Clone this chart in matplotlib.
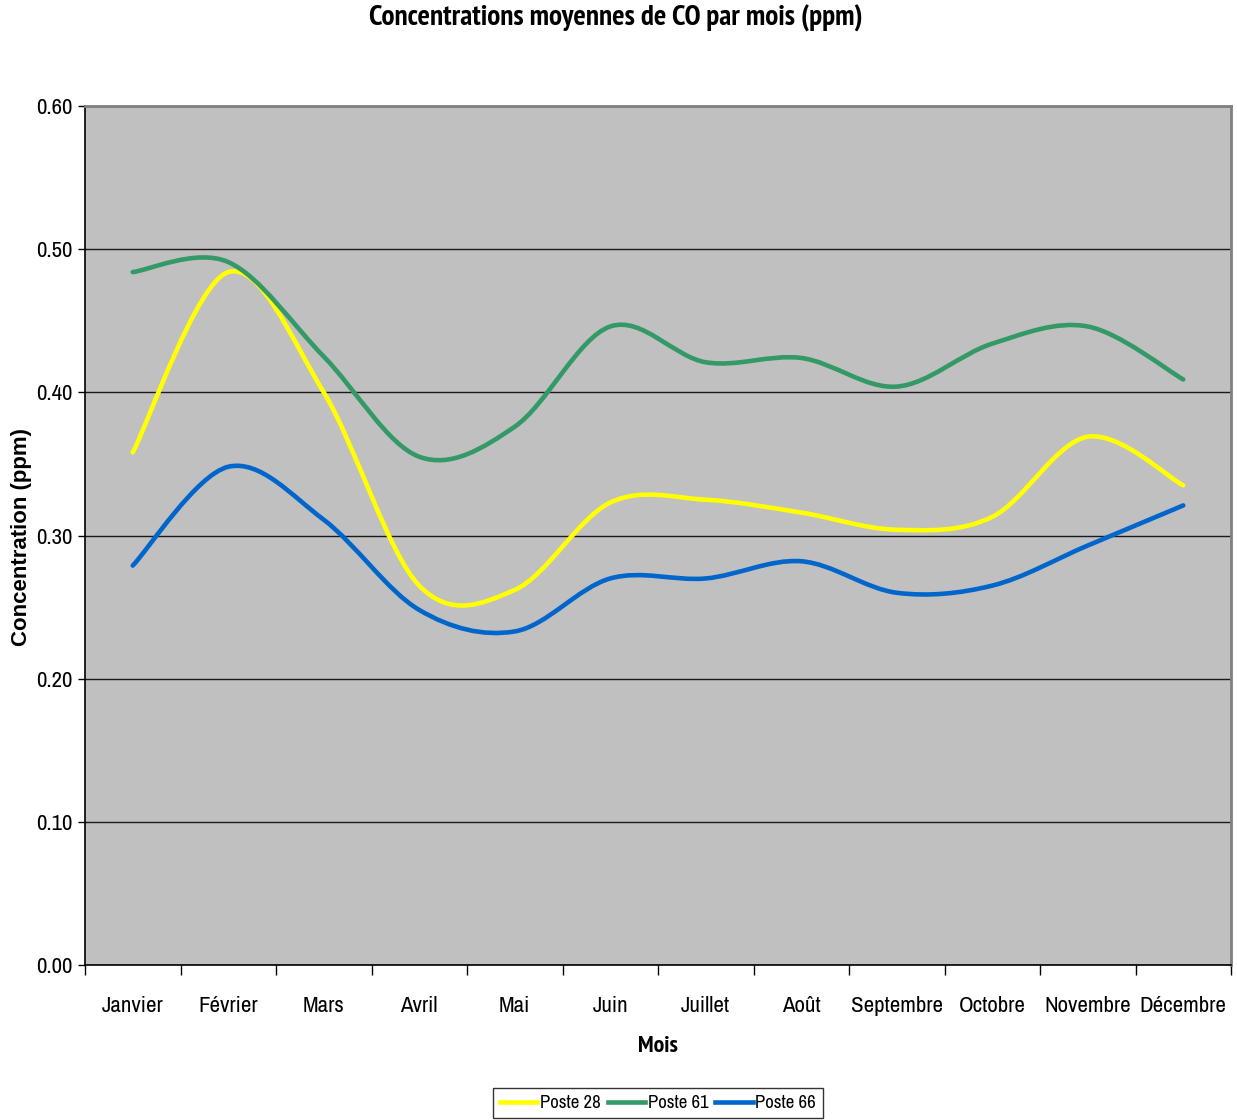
import matplotlib
matplotlib.use("Agg")
import matplotlib.pyplot as plt
from matplotlib.path import Path
from matplotlib.patches import PathPatch
from matplotlib.lines import Line2D
from matplotlib import font_manager

months = ["Janvier", "Février", "Mars", "Avril", "Mai", "Juin", "Juillet",
          "Août", "Septembre", "Octobre", "Novembre", "Décembre"]
poste_28 = [0.358, 0.484, 0.400, 0.265, 0.262, 0.323, 0.325, 0.316, 0.304, 0.313, 0.369, 0.335]
poste_61 = [0.484, 0.491, 0.425, 0.355, 0.376, 0.446, 0.421, 0.424, 0.404, 0.434, 0.446, 0.409]
poste_66 = [0.279, 0.348, 0.311, 0.248, 0.233, 0.270, 0.270, 0.282, 0.260, 0.265, 0.293, 0.321]
series_names = ["Poste 28", "Poste 61", "Poste 66"]
colors = ["#FFFF00", "#339966", "#0066CC"]
y_ticks = [0.0, 0.1, 0.2, 0.3, 0.4, 0.5, 0.6]

fonts = font_manager.fontManager.ttflist
names = {f.name for f in fonts}
bold_names = {f.name for f in fonts if (f.weight if isinstance(f.weight, int) else 400) >= 700
              or f.weight == "bold"}

narrow_cands = ["Liberation Sans Narrow", "Arial Narrow", "Arimo Narrow", "Archivo Narrow",
                "PT Sans Narrow", "Roboto Condensed", "Pragati Narrow", "Encode Sans Condensed",
                "Open Sans Condensed", "Liberation Sans", "Arimo", "Roboto"]


def pick(cands, pool):
    for c in cands:
        if c in pool:
            return c
    return "DejaVu Sans"


narrow = pick(narrow_cands, names)
narrow_bold = pick(narrow_cands, bold_names)
regular = pick(["Liberation Sans", "Arimo", "Arial", "Roboto", "Open Sans"], names)

fig = plt.figure(figsize=(12.37, 11.2), dpi=100)
ax = fig.add_axes([85/1237, 1-965/1120, (1231-85)/1237, (965-106)/1120])
ax.set_facecolor("#C0C0C0")


def smooth_path(xs, ys):
    # Excel-style smoothed line: cubic Bezier segments through each point
    pts = list(zip(xs, ys))
    n = len(pts)
    verts = [pts[0]]
    codes = [Path.MOVETO]
    for i in range(n - 1):
        p0 = pts[i - 1] if i > 0 else pts[i]
        p1 = pts[i]
        p2 = pts[i + 1]
        p3 = pts[i + 2] if i + 2 < n else pts[i + 1]
        c1 = (p1[0] + (p2[0] - p0[0]) / 6, p1[1] + (p2[1] - p0[1]) / 6)
        c2 = (p2[0] - (p3[0] - p1[0]) / 6, p2[1] - (p3[1] - p1[1]) / 6)
        verts += [c1, c2, p2]
        codes += [Path.CURVE4] * 3
    return Path(verts, codes)


x = list(range(len(months)))
for vals, col in zip([poste_28, poste_61, poste_66], colors):
    patch = PathPatch(smooth_path(x, vals), facecolor="none", edgecolor=col,
                      lw=3.3, capstyle="round", joinstyle="round", zorder=3)
    ax.add_patch(patch)

ax.set_xlim(-0.5, len(months) - 0.5)
ax.set_ylim(0, 0.6)
ax.set_yticks(y_ticks)
ax.set_yticklabels([f"{v:.2f}" for v in y_ticks], fontfamily=narrow, fontsize=16.5)
ax.yaxis.grid(True, color="#1a1a1a", lw=1.0)
ax.set_axisbelow(True)

ax.set_xticks(x)
ax.set_xticklabels(months, fontfamily=narrow, fontsize=16.5)
ax.set_xticks([i - 0.5 for i in range(len(months) + 1)], minor=True)
ax.tick_params(axis="x", which="major", length=0, pad=22)
ax.tick_params(axis="x", which="minor", length=7, width=1, color="black", direction="out")
ax.tick_params(axis="y", length=5, width=1, direction="out", pad=4)

ax.spines["left"].set_color("black")
ax.spines["bottom"].set_color("black")
ax.spines["left"].set_linewidth(1.2)
ax.spines["bottom"].set_linewidth(1.2)
ax.spines["top"].set_color("#808080")
ax.spines["right"].set_color("#808080")
ax.spines["top"].set_linewidth(2)
ax.spines["right"].set_linewidth(2)

fig.text(616/1237, 1-18/1120, "Concentrations moyennes de CO par mois (ppm)",
         ha="center", va="center", fontfamily=narrow_bold, fontweight="bold", fontsize=21)
fig.text(658/1237, 1-1046/1120, "Mois", ha="center", va="center",
         fontfamily=narrow_bold, fontweight="bold", fontsize=17)
fig.text(22/1237, 1-537/1120, "Concentration (ppm)", ha="center", va="center",
         rotation=90, fontfamily=regular, fontweight="bold", fontsize=16)

handles = [Line2D([0], [0], color=c, lw=3.3) for c in colors]
leg = fig.legend(handles, series_names, loc="center", bbox_to_anchor=(658/1237, 1-1103/1120),
                 ncol=3, frameon=True, fancybox=False, edgecolor="black",
                 prop={"family": narrow, "size": 13.5}, handlelength=2.0,
                 handletextpad=0.15, columnspacing=0.35, borderpad=0.35)
leg.get_frame().set_linewidth(1.0)

fig.savefig("out.png", dpi=100, facecolor="white")
